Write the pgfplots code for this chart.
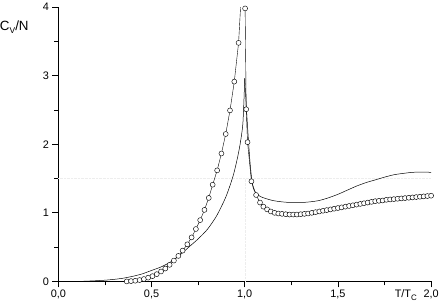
\documentclass[border=0pt]{standalone}
\usepackage{pgfplots}
\pgfplotsset{compat=1.18}
\usepackage{fontspec}
\setmainfont{Liberation Sans}
\begin{document}
\begin{tikzpicture}
\begin{axis}[
  scale only axis,
  width=375bp, height=276bp,
  xmin=0, xmax=2, ymin=0, ymax=4,
  axis lines*=left,
  axis line style={line width=0.8pt},
  xtick={0,0.5,1,1.5,2},
  ytick={0,1,2,3,4},
  minor x tick num=1,
  minor y tick num=1,
  tick align=outside,
  major tick length=6bp,
  minor tick length=4bp,
  tick style={line width=0.7pt, black},
  /pgf/number format/assume math mode=true,
  /pgf/number format/use comma,
  xticklabel style={/pgf/number format/fixed, /pgf/number format/fixed zerofill, /pgf/number format/precision=1, font=\fontsize{11}{12}\selectfont, yshift=1bp},
  yticklabel style={font=\fontsize{11}{12}\selectfont},
  clip mode=individual,
]
\draw[black!7, densely dotted] (axis cs:0,1.5) -- (axis cs:2,1.5);
\draw[black!7, densely dotted] (axis cs:1,0) -- (axis cs:1,1.5);
% solid curve (left branch)
\addplot[black, line width=0.5pt, no marks, smooth, tension=0.4] coordinates {
(0.00,0) (0.10,0.000) (0.15,0.004) (0.20,0.010) (0.25,0.018) (0.30,0.030)
(0.35,0.048) (0.40,0.075) (0.45,0.11) (0.50,0.16) (0.55,0.21) (0.60,0.28)
(0.65,0.38) (0.70,0.50) (0.75,0.62) (0.80,0.76) (0.85,0.96) (0.90,1.24)
(0.94,1.56) (0.97,1.92) (0.99,2.30) (1.00,2.96)
};
% solid curve (right branch)
\addplot[black, line width=0.5pt, no marks, smooth, tension=0.5] coordinates {
(1.00,2.96) (1.01,2.48) (1.028,1.75)
(1.045,1.37) (1.072,1.26) (1.10,1.22) (1.15,1.18) (1.20,1.16) (1.25,1.15)
(1.30,1.15) (1.35,1.16) (1.40,1.18) (1.45,1.22) (1.50,1.27) (1.55,1.33)
(1.60,1.39) (1.65,1.44) (1.70,1.48) (1.75,1.52) (1.80,1.555) (1.85,1.575)
(1.90,1.59) (1.95,1.595) (2.00,1.59)
};
% connecting line for circles
\addplot[black, line width=0.4pt, no marks] coordinates {
(0.367,0.000) (0.390,0.005) (0.413,0.010) (0.436,0.020) (0.459,0.035)
(0.482,0.055) (0.505,0.077) (0.528,0.106) (0.551,0.145) (0.574,0.188)
(0.597,0.242) (0.620,0.304) (0.644,0.372) (0.667,0.449) (0.692,0.541)
(0.715,0.642) (0.738,0.764) (0.761,0.894) (0.784,1.043) (0.807,1.217)
(0.828,1.410) (0.852,1.619) (0.875,1.865) (0.898,2.149) (0.921,2.493)
(0.944,2.913) (0.967,3.478) (0.990,4.600) (1.002,3.980) (1.008,2.510)
(1.015,2.030) (1.036,1.460) (1.061,1.260) (1.082,1.150) (1.100,1.090)
(1.120,1.050) (1.140,1.020) (1.16,1.00) (1.18,0.99) (1.20,0.985)
(1.22,0.98) (1.24,0.975) (1.26,0.975) (1.28,0.975) (1.30,0.98) (1.32,0.985)
(1.34,0.99) (1.36,1.00) (1.38,1.01) (1.40,1.02) (1.42,1.03) (1.44,1.04)
(1.46,1.05) (1.48,1.06) (1.50,1.07) (1.52,1.08) (1.54,1.09) (1.56,1.10)
(1.58,1.11) (1.60,1.12) (1.62,1.13) (1.64,1.14) (1.66,1.15) (1.68,1.16)
(1.70,1.17) (1.72,1.175) (1.74,1.18) (1.76,1.19) (1.78,1.195) (1.80,1.20)
(1.82,1.205) (1.84,1.21) (1.86,1.215) (1.88,1.22) (1.90,1.225) (1.92,1.23)
(1.94,1.235) (1.96,1.24) (1.98,1.245) (2.00,1.25)
};
% circles
\addplot[only marks, mark=*, mark size=2.5bp, mark options={draw=black, fill=white, line width=0.45pt}] coordinates {
(0.367,0.000) (0.390,0.005) (0.413,0.010) (0.436,0.020) (0.459,0.035)
(0.482,0.055) (0.505,0.077) (0.528,0.106) (0.551,0.145) (0.574,0.188)
(0.597,0.242) (0.620,0.304) (0.644,0.372) (0.667,0.449) (0.692,0.541)
(0.715,0.642) (0.738,0.764) (0.761,0.894) (0.784,1.043) (0.807,1.217)
(0.828,1.410) (0.852,1.619) (0.875,1.865) (0.898,2.149) (0.921,2.493)
(0.944,2.913) (0.967,3.478) (1.002,3.980) (1.008,2.510)
(1.015,2.030) (1.036,1.460) (1.061,1.260) (1.082,1.150) (1.100,1.090)
(1.120,1.050) (1.140,1.020) (1.16,1.00) (1.18,0.99) (1.20,0.985)
(1.22,0.98) (1.24,0.975) (1.26,0.975) (1.28,0.975) (1.30,0.98) (1.32,0.985)
(1.34,0.99) (1.36,1.00) (1.38,1.01) (1.40,1.02) (1.42,1.03) (1.44,1.04)
(1.46,1.05) (1.48,1.06) (1.50,1.07) (1.52,1.08) (1.54,1.09) (1.56,1.10)
(1.58,1.11) (1.60,1.12) (1.62,1.13) (1.64,1.14) (1.66,1.15) (1.68,1.16)
(1.70,1.17) (1.72,1.175) (1.74,1.18) (1.76,1.19) (1.78,1.195) (1.80,1.20)
(1.82,1.205) (1.84,1.21) (1.86,1.215) (1.88,1.22) (1.90,1.225) (1.92,1.23)
(1.94,1.235) (1.96,1.24) (1.98,1.245) (2.00,1.25)
};
\node[anchor=base west, inner sep=0pt, font=\fontsize{13.5}{15}\selectfont] at (axis description cs:-0.157,0.9156) {C\raisebox{-0.45ex}{\fontsize{8.5}{9}\selectfont V}/N};
\node[anchor=north, inner sep=0pt, font=\fontsize{11}{12}\selectfont] at (axis description cs:0.932,-0.03) {T/T\raisebox{-0.5ex}{\fontsize{8}{9}\selectfont C}};
\end{axis}
\path ([yshift=-2.5bp]current bounding box.south west);
\end{tikzpicture}
\end{document}
